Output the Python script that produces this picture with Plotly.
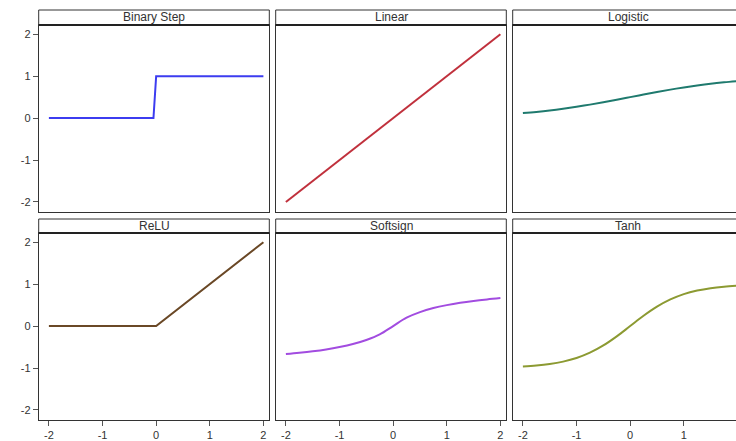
import plotly.graph_objects as go
from plotly.subplots import make_subplots

# ---------------- data ----------------
titles = ["Binary Step", "Linear", "Logistic", "ReLU", "Softsign", "Tanh"]
colors = ["#3c3cf0", "#c0303c", "#1f7a6e", "#6a4826", "#a24ce0", "#8c9a32"]

step_x = [-2, -0.05, 0, 2]
step_y = [0, 0, 1, 1]

linear_x = [-2, 2]
linear_y = [-2, 2]

grid_x = [-2, -1.75, -1.5, -1.25, -1, -0.75, -0.5, -0.25, 0,
          0.25, 0.5, 0.75, 1, 1.25, 1.5, 1.75, 2]
logistic_y = [0.119, 0.148, 0.182, 0.223, 0.269, 0.321, 0.378, 0.438, 0.500,
              0.562, 0.622, 0.679, 0.731, 0.777, 0.818, 0.852, 0.881]
softsign_y = [-0.667, -0.636, -0.600, -0.556, -0.500, -0.429, -0.333, -0.200, 0.0,
              0.200, 0.333, 0.429, 0.500, 0.556, 0.600, 0.636, 0.667]
tanh_y = [-0.964, -0.941, -0.905, -0.848, -0.762, -0.635, -0.462, -0.245, 0.0,
          0.245, 0.462, 0.635, 0.762, 0.848, 0.905, 0.941, 0.964]

relu_x = [-2, 0, 2]
relu_y = [0, 0, 2]

tick_vals = [-2, -1, 0, 1, 2]
tick_text = ["-2", "-1", "0", "1", "2"]

series = [
    (step_x, step_y, "linear"),
    (linear_x, linear_y, "linear"),
    (grid_x, logistic_y, "spline"),
    (relu_x, relu_y, "linear"),
    (grid_x, softsign_y, "spline"),
    (grid_x, tanh_y, "spline"),
]

# ---------------- layout geometry (pixels) ----------------
W, H = 736, 441
col_px = [(38.7, 269.3), (275.7, 506.3), (512.7, 743.3)]
row_px = [(25, 212), (233, 420)]          # plot area top/bottom
hdr_px = [(10, 25), (219, 233)]           # header strip top/bottom
x_full = (-2.19, 2.11)
y_range = [-2.24, 2.22]

FONT = "Liberation Sans, Arial, sans-serif"
TXT = "#333333"
LINE = "#333333"

fig = make_subplots(rows=2, cols=3)

for i, (xs, ys, shape) in enumerate(series):
    r, c = i // 3 + 1, i % 3 + 1
    fig.add_trace(go.Scatter(x=xs, y=ys, mode="lines",
                             line=dict(color=colors[i], width=2, shape=shape,
                                       smoothing=1.0 if shape == "spline" else None),
                             showlegend=False, hoverinfo="skip"),
                  row=r, col=c)

shapes = []
annotations = []
for r in range(2):
    for c in range(3):
        idx = r * 3 + c
        ax_n = "" if idx == 0 else str(idx + 1)
        x0p, x1p = col_px[c]
        vis_x1 = min(x1p, W)
        ppu = (x1p - x0p) / (x_full[1] - x_full[0])
        xr = [x_full[0], x_full[0] + (vis_x1 - x0p) / ppu]
        ty, by = row_px[r]
        fig.layout["xaxis" + ax_n].update(
            domain=[x0p / W, vis_x1 / W], range=xr,
            showgrid=False, zeroline=False,
            showline=True, linecolor=LINE, linewidth=1, mirror=True,
            ticks="outside" if r == 1 else "", ticklen=5, tickcolor="#555555",
            tickvals=tick_vals, ticktext=tick_text,
            showticklabels=(r == 1),
            tickfont=dict(family=FONT, size=11, color=TXT),
        )
        fig.layout["yaxis" + ax_n].update(
            domain=[1 - by / H, 1 - ty / H], range=y_range,
            showgrid=False, zeroline=False,
            showline=True, linecolor=LINE, linewidth=1,
            mirror=(c < 2),
            ticks="outside" if c == 0 else "", ticklen=5, tickcolor="#555555",
            tickvals=tick_vals, ticktext=tick_text,
            showticklabels=(c == 0),
            tickfont=dict(family=FONT, size=11, color=TXT),
        )
        # header strip
        h0, h1 = hdr_px[r]
        shapes.append(dict(type="rect", xref="paper", yref="paper",
                           x0=x0p / W, x1=x1p / W, y0=1 - h1 / H, y1=1 - h0 / H,
                           line=dict(color=LINE, width=1), fillcolor="white",
                           layer="above"))
        shapes.append(dict(type="line", xref="paper", yref="paper",
                           x0=x0p / W, x1=x1p / W, y0=1 - h1 / H, y1=1 - h1 / H,
                           line=dict(color="#222222", width=2), layer="above"))
        annotations.append(dict(text=titles[idx], xref="paper", yref="paper",
                                x=(x0p + x1p) / 2 / W, y=1 - (h0 + h1) / 2 / H,
                                xanchor="center", yanchor="middle", showarrow=False,
                                font=dict(family=FONT, size=12, color=TXT)))

fig.update_layout(width=W, height=H, autosize=False,
                  margin=dict(l=0, r=0, t=0, b=0),
                  paper_bgcolor="white", plot_bgcolor="white",
                  shapes=shapes, annotations=annotations,
                  font=dict(family=FONT, size=11, color=TXT))

fig.write_html("out.html")
